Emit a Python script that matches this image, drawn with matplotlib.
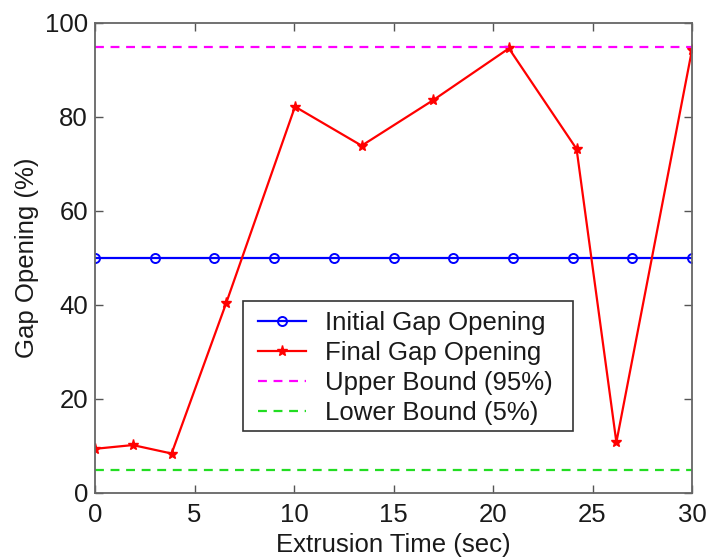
import matplotlib
matplotlib.use("Agg")
import matplotlib.pyplot as plt
from matplotlib.patches import Rectangle

plt.rcParams["font.family"] = ["Liberation Sans", "DejaVu Sans"]

initial_time = [0, 3, 6, 9, 12, 15, 18, 21, 24, 27, 30]
initial_gap = [50, 50, 50, 50, 50, 50, 50, 50, 50, 50, 50]

final_time = [0, 1.9, 3.85, 6.6, 10.05, 13.4, 17.0, 20.8, 24.2, 26.2, 30]
final_gap = [9.4, 10.2, 8.4, 40.5, 82.2, 73.9, 83.6, 94.6, 73.2, 10.8, 94.3]

upper_bound = 95
lower_bound = 5
x_limits = [0, 30]

fig = plt.figure(figsize=(7.07, 5.58), dpi=100)
ax = fig.add_axes([95 / 707, 1 - 493 / 558, 597 / 707, 470 / 558])

ax.plot(initial_time, initial_gap, color="blue", marker="o", markersize=6.5,
        markerfacecolor="none", markeredgewidth=1.4, linewidth=1.6,
        label="Initial Gap Opening")
ax.plot(final_time, final_gap, color="red", marker="*", markersize=8,
        linewidth=1.6, label="Final Gap Opening")
ax.plot(x_limits, [upper_bound, upper_bound], color="magenta", linestyle="--",
        dashes=(4, 3), linewidth=1.6, label="Upper Bound (95%)")
ax.plot(x_limits, [lower_bound, lower_bound], color="#22dd22", linestyle="--",
        dashes=(4, 3), linewidth=1.6, label="Lower Bound (5%)")

ax.set_xlim(0, 30)
ax.set_ylim(0, 100)
ax.set_xticks(range(0, 31, 5))
ax.set_yticks(range(0, 101, 20))
ax.tick_params(direction="in", top=True, right=True, length=6, width=1.0,
               labelsize=18.5, colors="#555555", labelcolor="#1a1a1a")
ax.tick_params(axis="x", pad=7)
ax.tick_params(axis="y", pad=5)
for spine in ax.spines.values():
    spine.set_color("#666666")
    spine.set_linewidth(1.3)

ax.set_xlabel("Extrusion Time (sec)", fontsize=18.5, color="#1a1a1a")
ax.set_ylabel("Gap Opening (%)", fontsize=18.5, color="#1a1a1a")
ax.xaxis.set_label_coords(0.5, -0.086)
ax.yaxis.set_label_coords(-0.094, 0.5)

# legend box drawn separately so it keeps the wide right margin
box_left, box_top = 148 / 597, 1 - 278 / 470
box_w, box_h = 330 / 597, 130 / 470
ax.add_patch(Rectangle((box_left, box_top - box_h), box_w, box_h,
                       transform=ax.transAxes, facecolor="white",
                       edgecolor="#333333", linewidth=1.2, zorder=4.5))

leg = ax.legend(loc="upper left", bbox_to_anchor=(box_left + 5 / 597, box_top),
                fontsize=18.5, frameon=False, handlelength=1.85,
                borderpad=0.4, labelspacing=0.23, handletextpad=0.75,
                borderaxespad=0)
for text in leg.get_texts():
    text.set_color("#1a1a1a")

fig.savefig("out.png", dpi=100)
